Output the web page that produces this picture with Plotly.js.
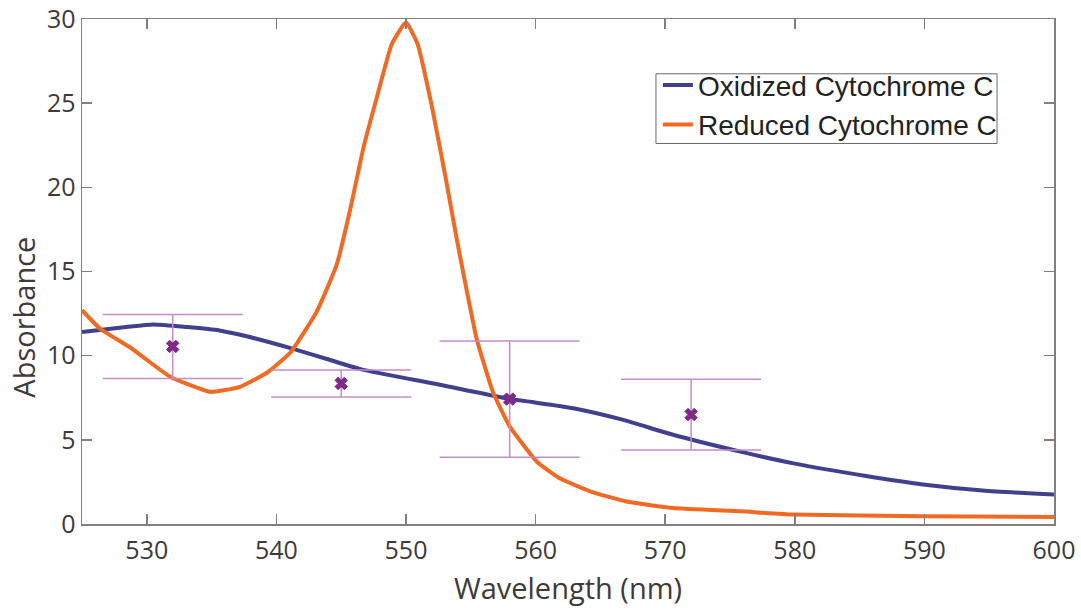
<!DOCTYPE html>
<html>
<head>
<meta charset="utf-8">
<script src="https://cdn.plot.ly/plotly-3.0.1.min.js"></script>
<style>html,body{margin:0;padding:0;background:#fff;} #chart{width:1081px;height:611px;}</style>
</head>
<body>
<div id="chart"></div>
<script>
// Oxidized Cytochrome C
const oxWavelength = [525, 528.4, 530.5, 533.1, 535.6, 537.7, 541.3, 543.9, 546.5, 552.6, 557.8, 562.9, 566.7, 570.6, 575.8, 579.9, 585.5, 589.9, 594.5, 600];
const oxAbsorbance = [11.4, 11.7, 11.85, 11.7, 11.5, 11.15, 10.4, 9.8, 9.2, 8.27, 7.46, 6.88, 6.2, 5.3, 4.3, 3.6, 2.85, 2.35, 1.99, 1.75];

// Reduced Cytochrome C
const redWavelength = [525, 526.4, 528.7, 531.8, 534.9, 537.2, 539.3, 541.1, 543.1, 544.65, 545.7, 546.7, 547.7, 548.9, 550, 550.9, 552, 553.1, 553.9, 554.55, 555.45, 556.7, 558, 560.1, 561.9, 564.2, 567, 570.6, 575.8, 579.9, 589.9, 600];
const redAbsorbance = [12.7, 11.6, 10.5, 8.75, 7.85, 8.15, 9.0, 10.2, 12.6, 15.4, 18.7, 22.3, 25.2, 28.5, 29.8, 28.5, 24.8, 20.4, 17.0, 14.4, 11.0, 7.86, 5.8, 3.7, 2.7, 1.94, 1.34, 0.95, 0.75, 0.56, 0.46, 0.42];

// Measured points with error bars
const measWavelength = [532, 545, 558, 572];
const measAbsorbance = [10.55, 8.35, 7.42, 6.5];
const measError = [1.9, 0.8, 3.45, 2.1];

const xTicks = [530, 540, 550, 560, 570, 580, 590, 600];
const yTicks = [0, 5, 10, 15, 20, 25, 30];

const traces = [
  {x: oxWavelength, y: oxAbsorbance, type: 'scatter', mode: 'lines', name: 'Oxidized Cytochrome C',
   line: {color: '#41408f', width: 4, shape: 'spline', smoothing: 0.6}},
  {x: redWavelength, y: redAbsorbance, type: 'scatter', mode: 'lines', name: 'Reduced Cytochrome C',
   line: {color: '#f06a24', width: 4, shape: 'spline', smoothing: 0.4}},
  {x: measWavelength, y: measAbsorbance, type: 'scatter', mode: 'markers', showlegend: false,
   marker: {symbol: 'x', size: 11, color: '#7e2a86', line: {color: '#7e2a86', width: 1}},
   error_y: {type: 'data', array: measError, visible: true, color: '#c58ccb', thickness: 1.5, width: 70}}
];

const axisCommon = {
  showgrid: false, zeroline: false, showline: true, linecolor: '#857f7c', linewidth: 1.5,
  mirror: 'ticks', ticks: 'inside', ticklen: 10, tickwidth: 1.5, tickcolor: '#857f7c',
  ticklabeloverflow: 'allow',
  tickfont: {family: 'Open Sans', size: 25, color: '#3d3a39'}
};

const titleFont = {family: 'Open Sans', size: 29, color: '#3d3a39'};

const layout = {
  width: 1081, height: 611,
  margin: {l: 82, r: 27, t: 19, b: 87},
  paper_bgcolor: '#ffffff', plot_bgcolor: '#ffffff',
  showlegend: true,
  xaxis: Object.assign({}, axisCommon, {
    range: [525, 600], tickvals: xTicks, ticktext: xTicks.map(String),
    ticklabelstandoff: 3,
    title: {text: 'Wavelength (nm)', font: titleFont, standoff: 14}
  }),
  yaxis: Object.assign({}, axisCommon, {
    range: [0, 30], tickvals: yTicks, ticktext: yTicks.map(String)
  }),
  annotations: [{
    text: 'Absorbance', textangle: -90, font: titleFont,
    xref: 'paper', yref: 'paper', x: -0.06, y: 0.41, xanchor: 'center', yanchor: 'middle',
    showarrow: false
  }],
  shapes: [{
    type: 'rect', xref: 'paper', yref: 'paper',
    x0: 0.5905, x1: 0.9414, y0: 0.7535, y1: 0.8915,
    line: {color: '#6d6866', width: 1}, fillcolor: 'rgba(0,0,0,0)', layer: 'above'
  }],
  legend: {
    x: 0.5925, y: 0.918, xanchor: 'left', yanchor: 'top',
    bgcolor: 'rgba(0,0,0,0)', borderwidth: 0,
    font: {family: 'Liberation Sans', size: 28, color: '#222222'},
    tracegroupgap: 0
  }
};

Plotly.newPlot('chart', traces, layout, {displayModeBar: false, staticPlot: true});
</script>
</body>
</html>
